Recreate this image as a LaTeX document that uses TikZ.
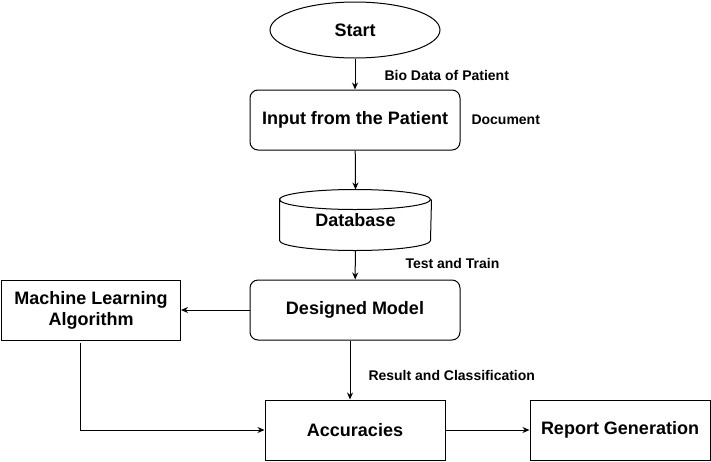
\documentclass[tikz,border=0pt]{standalone}
\usepackage{fontspec}
\setmainfont{Liberation Sans}
\usetikzlibrary{arrows.meta,shapes.geometric}
\begin{document}
\begin{tikzpicture}[x=1pt,y=-1pt,
  line width=1pt,
  main/.style={font=\fontsize{18}{21}\selectfont\bfseries, inner sep=0pt, align=center},
  lbl/.style={font=\fontsize{14}{16}\selectfont\bfseries, anchor=west, inner sep=0pt},
  rbox/.style={main, draw, rounded corners=8pt, minimum width=210pt, minimum height=60pt},
  sbox/.style={main, draw, minimum width=180pt, minimum height=60pt},
  arr/.style={-{Stealth[length=7pt,width=6pt]}}]
\useasboundingbox (0,0) rectangle (711,461);
\node[main, draw, ellipse, minimum width=170pt, minimum height=56pt] (start) at (355,30) {Start};
\node[rbox] (input) at (355,120) {Input from the Patient};
\node[main, minimum width=151pt, minimum height=60pt] (db) at (355.5,220) {Database};
\draw ([yshift=-10pt]db.north west) arc[start angle=180, end angle=-180, x radius=75.5pt, y radius=10pt]
  -- ([yshift=10pt]db.south west) arc[start angle=180, end angle=360, x radius=75.5pt, y radius=10pt]
  -- ([yshift=-10pt]db.north east);
\node[rbox] (model) at (355,310) {Designed Model};
\node[main, draw, minimum width=179pt, minimum height=60pt] (ml) at (91,310) {Machine Learning\\Algorithm};
\node[sbox] (acc) at (355,430) {Accuracies};
\node[sbox] (rep) at (620,430) {Report Generation};
\coordinate (mlout) at (80,343);
\draw[arr] (start) -- (input);
\draw[arr] (input) -- (db.north);
\draw[arr] (db) -- (model);
\draw[arr] (model) -- (ml);
\draw[arr] ([xshift=-5pt]model.south) -- ([xshift=-5pt]acc.north);
\draw[arr] (mlout) |- (acc.west);
\draw[arr] (acc) -- (rep);
\node[lbl] (l1) at (384,75) {Bio Data of Patient};
\node[lbl] (l2) at (471,120) {Document};
\node[lbl] (l3) at (405,263) {Test and Train};
\node[lbl] (l4) at (368,375) {Result and Classification};
\end{tikzpicture}
\end{document}
